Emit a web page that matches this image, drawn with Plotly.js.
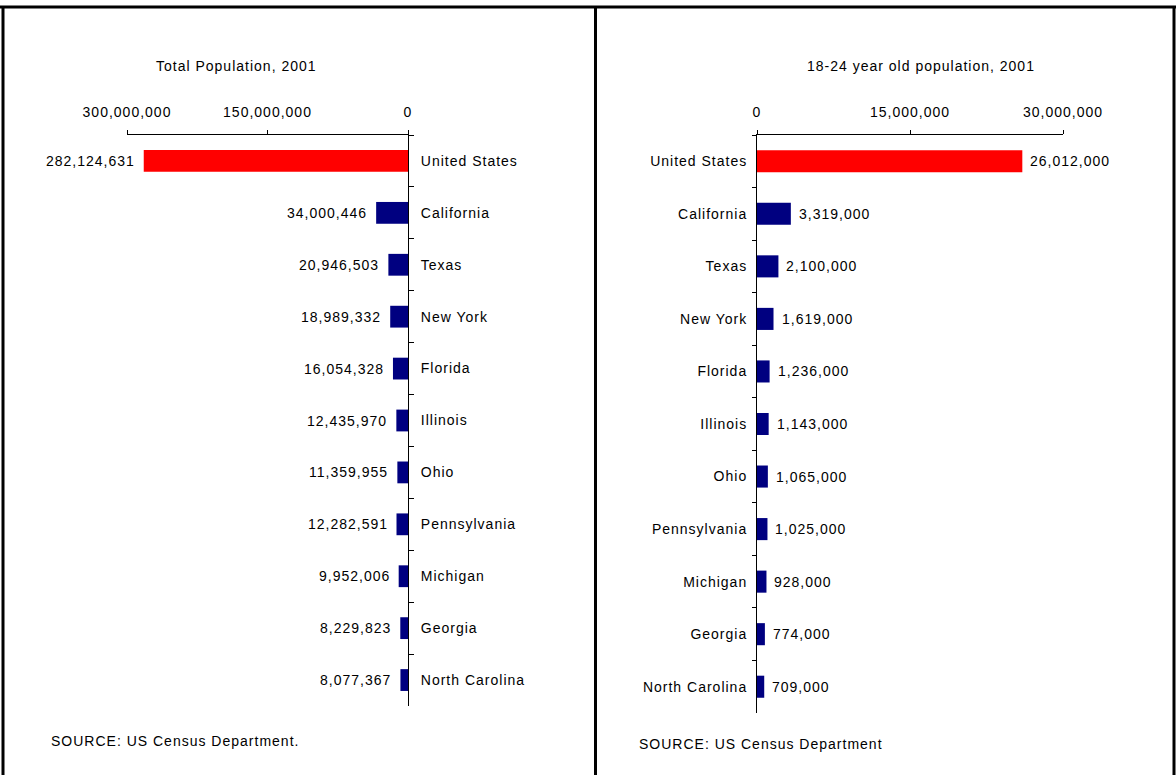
<!DOCTYPE html>
<html>
<head>
<meta charset="utf-8">
<script src="https://cdn.plot.ly/plotly-3.0.1.min.js"></script>
<style>
html, body { margin: 0; padding: 0; background: #fff; }
#chart { width: 1176px; height: 775px; }
text { letter-spacing: 1px; }
</style>
</head>
<body>
<div id="chart"></div>
<script>
const states = ["United States", "California", "Texas", "New York", "Florida", "Illinois", "Ohio", "Pennsylvania", "Michigan", "Georgia", "North Carolina"];
const totalPop = [282124631, 34000446, 20946503, 18989332, 16054328, 12435970, 11359955, 12282591, 9952006, 8229823, 8077367];
const youthPop = [26012000, 3319000, 2100000, 1619000, 1236000, 1143000, 1065000, 1025000, 928000, 774000, 709000];
const leftTicks = [0, 150000000, 300000000];
const rightTicks = [0, 15000000, 30000000];
const leftTitle = "Total Population, 2001";
const rightTitle = "18-24 year old population, 2001";
const leftSource = "SOURCE: US Census Department.";
const rightSource = "SOURCE: US Census Department";

const W = 1176, H = 775;
const px = x => x / W;
const py = y => 1 - y / H;
const colors = states.map((s, i) => i === 0 ? "#FF0000" : "#000080");
const fmt = v => v.toLocaleString("en-US");
const FONT = "Liberation Sans, Arial, sans-serif";

const traces = [
  { type: "bar", orientation: "h", x: totalPop, y: states, xaxis: "x", yaxis: "y",
    marker: { color: colors }, hoverinfo: "none" },
  { type: "bar", orientation: "h", x: youthPop, y: states, xaxis: "x2", yaxis: "y2",
    marker: { color: colors }, hoverinfo: "none" }
];

const txtFont = { size: 14, color: "#000", family: FONT };
const annotations = [];
states.forEach((s, i) => {
  annotations.push({ x: totalPop[i], y: s, xref: "x", yref: "y", text: fmt(totalPop[i]),
    showarrow: false, xanchor: "right", xshift: -7, font: txtFont });
  annotations.push({ x: youthPop[i], y: s, xref: "x2", yref: "y2", text: fmt(youthPop[i]),
    showarrow: false, xanchor: "left", xshift: 6, font: txtFont });
});
annotations.push({ x: px(154), y: py(66), xref: "paper", yref: "paper", text: leftTitle, showarrow: false,
  xanchor: "left", yanchor: "middle", font: txtFont });
annotations.push({ x: px(1037), y: py(66), xref: "paper", yref: "paper", text: rightTitle, showarrow: false,
  xanchor: "right", yanchor: "middle", font: txtFont });
annotations.push({ x: px(49), y: py(741), xref: "paper", yref: "paper", text: leftSource, showarrow: false,
  xanchor: "left", yanchor: "middle", font: txtFont });
annotations.push({ x: px(637), y: py(744), xref: "paper", yref: "paper", text: rightSource, showarrow: false,
  xanchor: "left", yanchor: "middle", font: txtFont });

const axisFont = { size: 14, color: "#000", family: FONT };
const lineStyle = { type: "line", xref: "paper", yref: "paper", line: { color: "#000", width: 3 } };

const layout = {
  width: W, height: H,
  margin: { l: 0, r: 0, t: 0, b: 0 },
  paper_bgcolor: "#fff", plot_bgcolor: "#fff",
  showlegend: false,
  bargap: 0.58,
  font: { family: FONT, size: 14, color: "#000" },
  xaxis: { domain: [px(127), px(408)], range: [300000000, 0], side: "top", anchor: "y",
    showline: true, linecolor: "#000", linewidth: 1, ticks: "outside", ticklen: 4, tickcolor: "#000",
    tickvals: leftTicks, tickformat: ",d", showgrid: false, zeroline: false, fixedrange: true,
    tickfont: axisFont, ticklabelstandoff: 7 },
  yaxis: { domain: [py(706), py(135)], type: "category", autorange: "reversed", side: "right", anchor: "x",
    showline: true, linecolor: "#000", linewidth: 1, ticks: "outside", ticklen: 5, tickcolor: "#000",
    tickson: "boundaries", showgrid: false, zeroline: false, fixedrange: true,
    tickfont: axisFont, ticklabelstandoff: 9 },
  xaxis2: { domain: [px(757), px(1063)], range: [0, 30000000], side: "top", anchor: "y2",
    showline: true, linecolor: "#000", linewidth: 1, ticks: "outside", ticklen: 4, tickcolor: "#000",
    tickvals: rightTicks, tickformat: ",d", showgrid: false, zeroline: false, fixedrange: true,
    tickfont: axisFont, ticklabelstandoff: 7 },
  yaxis2: { domain: [py(713), py(135)], type: "category", autorange: "reversed", side: "left", anchor: "x2",
    showline: true, linecolor: "#000", linewidth: 1, ticks: "outside", ticklen: 4, tickcolor: "#000",
    tickson: "boundaries", showgrid: false, zeroline: false, fixedrange: true,
    tickfont: axisFont, ticklabelstandoff: 6 },
  annotations: annotations,
  shapes: [
    Object.assign({}, lineStyle, { x0: 0, x1: 1, y0: py(7), y1: py(7) }),
    Object.assign({}, lineStyle, { x0: px(3), x1: px(3), y0: py(7), y1: 0 }),
    Object.assign({}, lineStyle, { x0: px(595.5), x1: px(595.5), y0: py(7), y1: 0 }),
    Object.assign({}, lineStyle, { x0: px(1174), x1: px(1174), y0: py(7), y1: 0 })
  ]
};

Plotly.newPlot("chart", traces, layout, { displayModeBar: false, staticPlot: true });
</script>
</body>
</html>
